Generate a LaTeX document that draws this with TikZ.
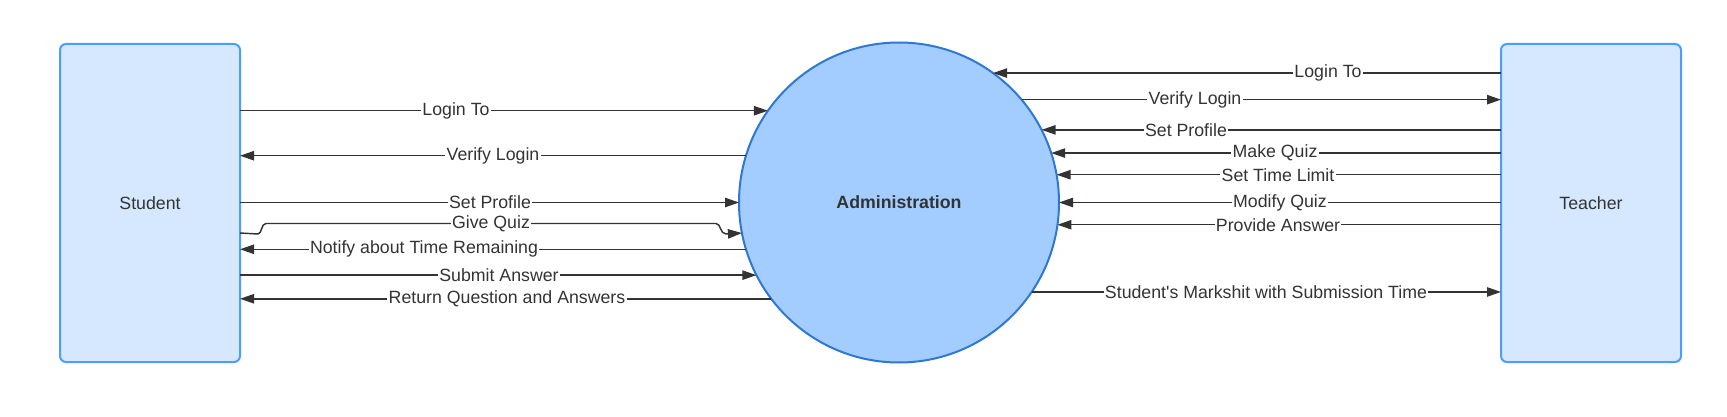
\documentclass[tikz,border=0pt]{standalone}
\usepackage{fontspec}
\setmainfont{Liberation Sans}
\usetikzlibrary{arrows.meta}
\definecolor{boxfill}{RGB}{214,232,255}
\definecolor{boxline}{RGB}{77,157,255}
\definecolor{circfill}{RGB}{163,204,255}
\definecolor{circline}{RGB}{47,120,210}
\definecolor{ink}{RGB}{51,51,51}
\begin{document}
\begin{tikzpicture}[x=0.75pt,y=-0.75pt,
  ent/.style={draw=boxline, fill=boxfill, line width=1.5pt, rounded corners=4.5pt,
    minimum width=135pt, minimum height=238.5pt, inner sep=0pt, outer sep=0pt,
    text=ink, font=\fontsize{13.3}{16}\selectfont},
  proc/.style={circle, draw=circline, fill=circfill, line width=1.5pt,
    minimum size=240pt, inner sep=0pt, outer sep=0pt,
    text=ink, font=\fontsize{13.3}{16}\selectfont\bfseries},
  flow/.style={draw=ink, line width=1.1pt, -{Triangle[length=10.5pt,width=7pt]}},
  lbl/.style={fill=white, inner sep=1pt, text=ink, font=\fontsize{13.3}{16}\selectfont}
]
\useasboundingbox (0,0) rectangle (1727,417);

\node[ent] (student) at (150,203) {Student};
\node[ent] (teacher) at (1591,203) {Teacher};
\node[proc] (admin) at (899,202.5) {Administration};

% Student side
\draw[flow] (admin.145.55 -| student.east) -- (admin.145.55);
\draw[flow] (admin.163.67) -- (admin.163.67 -| student.east);
\draw[flow] (admin.180 -| student.east) -- (admin.180);
\draw[flow] (admin.191.36 -| student.east) -- (258,234)
  .. controls (262,234) and (261,223.5) .. (266,223.5) -- (716,223.5)
  .. controls (721,223.5) and (720,234) .. (726,234) -- (admin.191.36);
\draw[flow] (admin.197.27) -- (admin.197.27 -| student.east);
\draw[flow] (admin.207.95 -| student.east) -- (admin.207.95);
\draw[flow] (admin.217.77) -- (admin.217.77 -| student.east);

% Teacher side
\draw[flow] (admin.54.96 -| teacher.west) -- (admin.54.96);
\draw[flow] (admin.40.77) -- (admin.40.77 -| teacher.west);
\draw[flow] (admin.27.55 -| teacher.west) -- (admin.27.55);
\draw[flow] (admin.18.78 -| teacher.west) -- (admin.18.78);
\draw[flow] (admin.10.63 -| teacher.west) -- (admin.10.63);
\draw[flow] (admin.0 -| teacher.west) -- (admin.0);
\draw[flow] (admin.-8.81 -| teacher.west) -- (admin.-8.81);
\draw[flow] (admin.-34.01) -- (admin.-34.01 -| teacher.west);

% Labels, student side
\node[lbl] (s1) at (456,0 |- admin.145.55) {Login To};
\node[lbl] (s2) at (493,0 |- admin.163.67) {Verify Login};
\node[lbl] (s3) at (490,0 |- admin.180) {Set Profile};
\node[lbl] (s4) at (491,223.5) {Give Quiz};
\node[lbl] (s5) at (424,0 |- admin.197.27) {Notify about Time Remaining};
\node[lbl] (s6) at (499,0 |- admin.207.95) {Submit Answer};
\node[lbl] (s7) at (507,0 |- admin.217.77) {Return Question and Answers};

% Labels, teacher side
\node[lbl] (t1) at (1328,0 |- admin.54.96) {Login To};
\node[lbl] (t2) at (1195,0 |- admin.40.77) {Verify Login};
\node[lbl] (t3) at (1186,0 |- admin.27.55) {Set Profile};
\node[lbl] (t4) at (1275,0 |- admin.18.78) {Make Quiz};
\node[lbl] (t5) at (1278,0 |- admin.10.63) {Set Time Limit};
\node[lbl] (t6) at (1280,0 |- admin.0) {Modify Quiz};
\node[lbl] (t7) at (1278,0 |- admin.-8.81) {Provide Answer};
\node[lbl] (t8) at (1266,0 |- admin.-34.01) {Student\textquotesingle s Markshit with Submission Time};
\end{tikzpicture}
\end{document}
